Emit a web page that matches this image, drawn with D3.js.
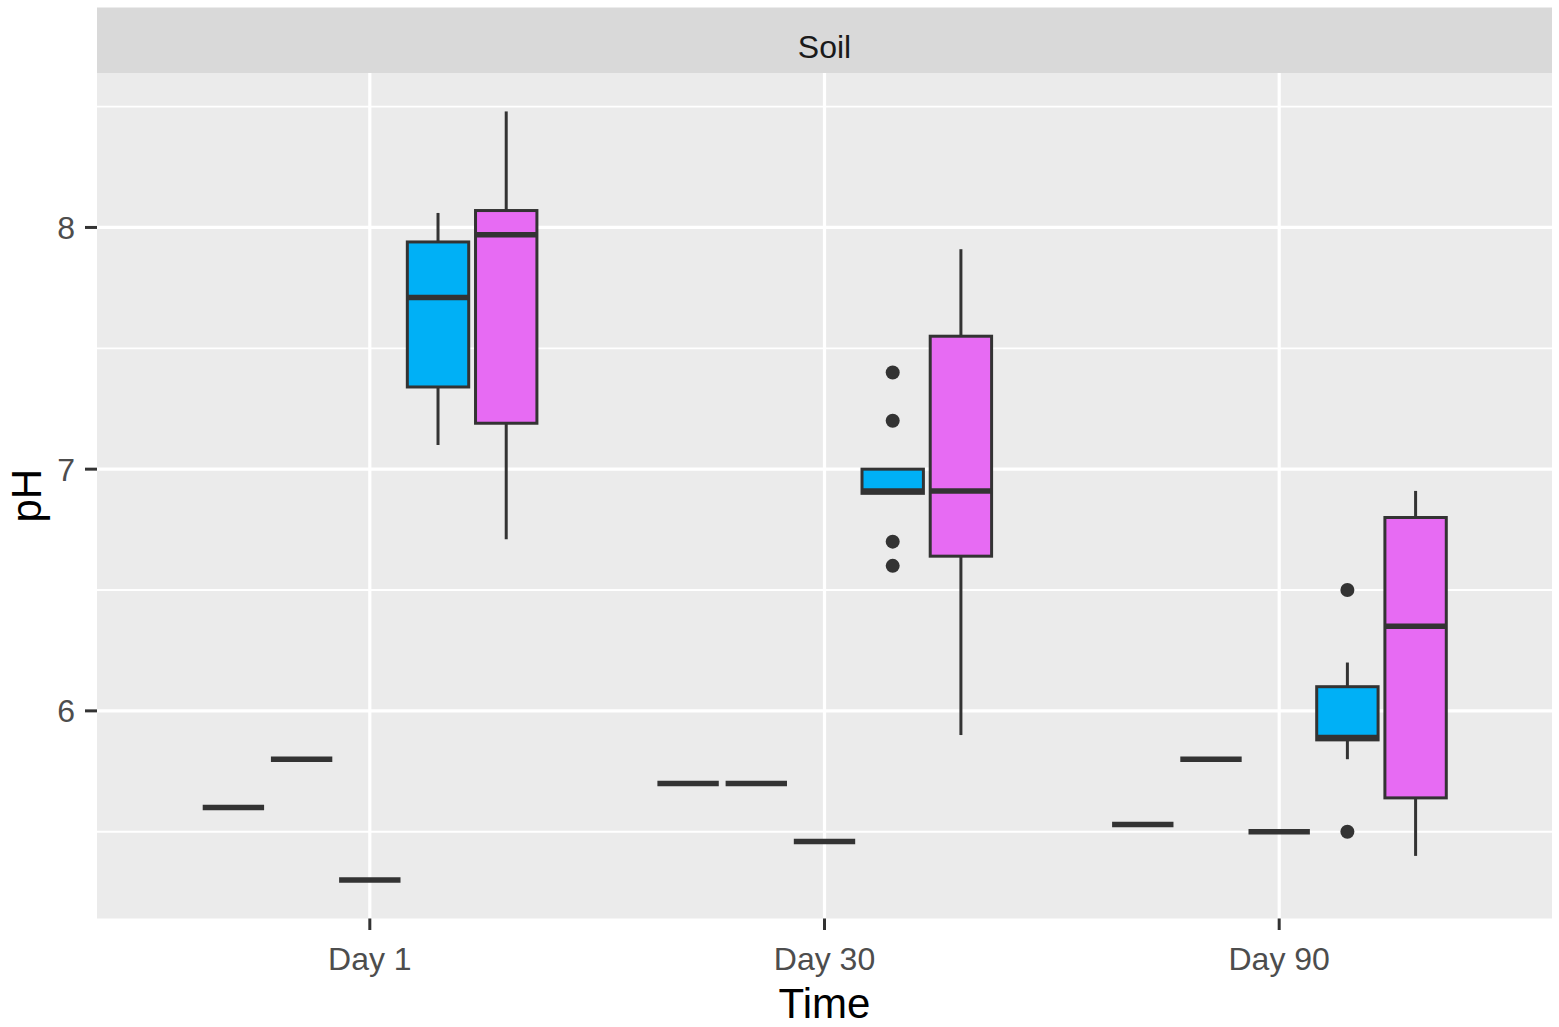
<!DOCTYPE html>
<html>
<head>
<meta charset="utf-8">
<script src="https://cdn.jsdelivr.net/npm/d3@7"></script>
<style>
  body { margin: 0; background: #fff; }
  text { font-family: "Liberation Sans", Arial, sans-serif; }
</style>
</head>
<body>
<div id="chart"></div>
<script>
// ---- data ----
const days = ['Day 1', 'Day 30', 'Day 90']
const groups = ['g1', 'g2', 'g3', 'g4', 'g5']
const groupFill = ['#F8766D', '#A3A500', '#00BF7D', '#00B0F6', '#E76BF3']

// five-number summaries per day: [ymin, lower, middle, upper, ymax]
const g1Stats = [[5.6, 5.6, 5.6, 5.6, 5.6], [5.7, 5.7, 5.7, 5.7, 5.7], [5.53, 5.53, 5.53, 5.53, 5.53]]
const g2Stats = [[5.8, 5.8, 5.8, 5.8, 5.8], [5.7, 5.7, 5.7, 5.7, 5.7], [5.8, 5.8, 5.8, 5.8, 5.8]]
const g3Stats = [[5.3, 5.3, 5.3, 5.3, 5.3], [5.46, 5.46, 5.46, 5.46, 5.46], [5.5, 5.5, 5.5, 5.5, 5.5]]
const g4Stats = [[7.1, 7.34, 7.71, 7.94, 8.06], [6.9, 6.9, 6.91, 7.0, 7.0], [5.8, 5.88, 5.89, 6.1, 6.2]]
const g5Stats = [[6.71, 7.19, 7.97, 8.07, 8.48], [5.9, 6.64, 6.91, 7.55, 7.91], [5.4, 5.64, 6.35, 6.8, 6.91]]

const g4Outliers = [[], [7.4, 7.2, 6.7, 6.6], [6.5, 5.5]]
const g5Outliers = [[], [], []]

const yTicks = [6, 7, 8]

// ---- layout ----
const W = 1559, H = 1027
const panel = {left: 97, right: 1552, top: 73, bottom: 918.5}
const stripTop = 7.5

const allStats = [g1Stats, g2Stats, g3Stats, g4Stats, g5Stats]
const allOut = [[[], [], []], [[], [], []], [[], [], []], g4Outliers, g5Outliers]

const boxes = []
allStats.forEach((s, gi) => {
    s.forEach((v, di) => {
        boxes.push({day: days[di], gi, ymin: v[0], lower: v[1], middle: v[2], upper: v[3], ymax: v[4], out: allOut[gi][di]})
    })
})

// y domain like ggplot: data range + 5% each side
const vals = boxes.flatMap(b => [b.ymin, b.ymax, ...b.out])
const lo = d3.min(vals), hi = d3.max(vals)
const pad = (hi - lo) * 0.05

const y = d3.scaleLinear()
    .domain([lo - pad, hi + pad])
    .range([panel.bottom, panel.top])

// discrete x: positions 1..3, expanded by 0.6
const xc = d3.scaleLinear()
    .domain([0.4, days.length + 0.6])
    .range([panel.left, panel.right])
const x = d => xc(days.indexOf(d) + 1)

// dodge: total width 0.75 split across the 5 groups, box width 90% of slot
const slot = 0.75 / groups.length
const dodge = gi => (gi - (groups.length - 1) / 2) * slot
const boxW = xc(slot * 0.9) - xc(0)

const svg = d3.select('#chart').append('svg')
    .attr('width', W)
    .attr('height', H)

// panel background + strip
svg.append('rect')
    .attr('x', panel.left).attr('y', panel.top)
    .attr('width', panel.right - panel.left).attr('height', panel.bottom - panel.top)
    .style('fill', '#EBEBEB')
svg.append('rect')
    .attr('x', panel.left).attr('y', stripTop)
    .attr('width', panel.right - panel.left).attr('height', panel.top - stripTop)
    .style('fill', '#D9D9D9')
svg.append('text')
    .attr('x', (panel.left + panel.right) / 2)
    .attr('y', 58)
    .attr('text-anchor', 'middle')
    .style('font-size', '32px')
    .style('fill', '#1A1A1A')
    .text('Soil')

// grid
const minor = d3.range(Math.ceil(y.domain()[0] * 2) / 2, y.domain()[1], 1).filter(v => !yTicks.includes(v))
svg.append('g').selectAll('line')
    .data(minor)
    .enter().append('line')
    .attr('x1', panel.left).attr('x2', panel.right)
    .attr('y1', d => y(d)).attr('y2', d => y(d))
    .style('stroke', '#fff').style('stroke-width', 1.8)
svg.append('g').selectAll('line')
    .data(yTicks)
    .enter().append('line')
    .attr('x1', panel.left).attr('x2', panel.right)
    .attr('y1', d => y(d)).attr('y2', d => y(d))
    .style('stroke', '#fff').style('stroke-width', 3.2)
svg.append('g').selectAll('line')
    .data(days)
    .enter().append('line')
    .attr('x1', d => x(d)).attr('x2', d => x(d))
    .attr('y1', panel.top).attr('y2', panel.bottom)
    .style('stroke', '#fff').style('stroke-width', 3.2)

// boxplots
const dark = '#333333'
const bx = b => x(b.day) + xc(dodge(b.gi)) - xc(0)
const bg = svg.append('g').selectAll('.box')
    .data(boxes)
    .enter().append('g')
    .attr('class', 'box')

bg.append('line')
    .attr('x1', bx).attr('x2', bx)
    .attr('y1', d => y(d.upper)).attr('y2', d => y(d.ymax))
    .style('stroke', dark).style('stroke-width', 3)
bg.append('line')
    .attr('x1', bx).attr('x2', bx)
    .attr('y1', d => y(d.lower)).attr('y2', d => y(d.ymin))
    .style('stroke', dark).style('stroke-width', 3)
bg.append('rect')
    .attr('x', d => bx(d) - boxW / 2)
    .attr('y', d => y(d.upper))
    .attr('width', boxW)
    .attr('height', d => y(d.lower) - y(d.upper))
    .style('fill', d => groupFill[d.gi])
    .style('stroke', dark).style('stroke-width', 3)
bg.append('line')
    .attr('x1', d => bx(d) - boxW / 2).attr('x2', d => bx(d) + boxW / 2)
    .attr('y1', d => y(d.middle)).attr('y2', d => y(d.middle))
    .style('stroke', dark).style('stroke-width', 5.5)
bg.selectAll('circle')
    .data(d => d.out.map(v => ({v, cx: bx(d)})))
    .enter().append('circle')
    .attr('cx', d => d.cx)
    .attr('cy', d => y(d.v))
    .attr('r', 7)
    .style('fill', dark)

// axes
const tickCol = '#333333', labCol = '#4D4D4D'
const ya = svg.append('g')
ya.selectAll('line').data(yTicks).enter().append('line')
    .attr('x1', panel.left - 12).attr('x2', panel.left)
    .attr('y1', d => y(d)).attr('y2', d => y(d))
    .style('stroke', tickCol).style('stroke-width', 3)
ya.selectAll('text').data(yTicks).enter().append('text')
    .attr('x', panel.left - 22)
    .attr('y', d => y(d))
    .attr('dy', '0.36em')
    .attr('text-anchor', 'end')
    .style('font-size', '32px')
    .style('fill', labCol)
    .text(d => d)

const xa = svg.append('g')
xa.selectAll('line').data(days).enter().append('line')
    .attr('x1', d => x(d)).attr('x2', d => x(d))
    .attr('y1', panel.bottom).attr('y2', panel.bottom + 11.5)
    .style('stroke', tickCol).style('stroke-width', 3)
xa.selectAll('text').data(days).enter().append('text')
    .attr('x', d => x(d))
    .attr('y', 970)
    .attr('text-anchor', 'middle')
    .style('font-size', '32px')
    .style('fill', labCol)
    .text(d => d)

// axis titles
svg.append('text')
    .attr('x', (panel.left + panel.right) / 2)
    .attr('y', 1018)
    .attr('text-anchor', 'middle')
    .style('font-size', '42px')
    .style('fill', '#000')
    .text('Time')
svg.append('text')
    .attr('transform', `translate(41,${(panel.top + panel.bottom) / 2}) rotate(-90)`)
    .attr('text-anchor', 'middle')
    .style('font-size', '42px')
    .style('fill', '#000')
    .text('pH')
</script>
</body>
</html>
